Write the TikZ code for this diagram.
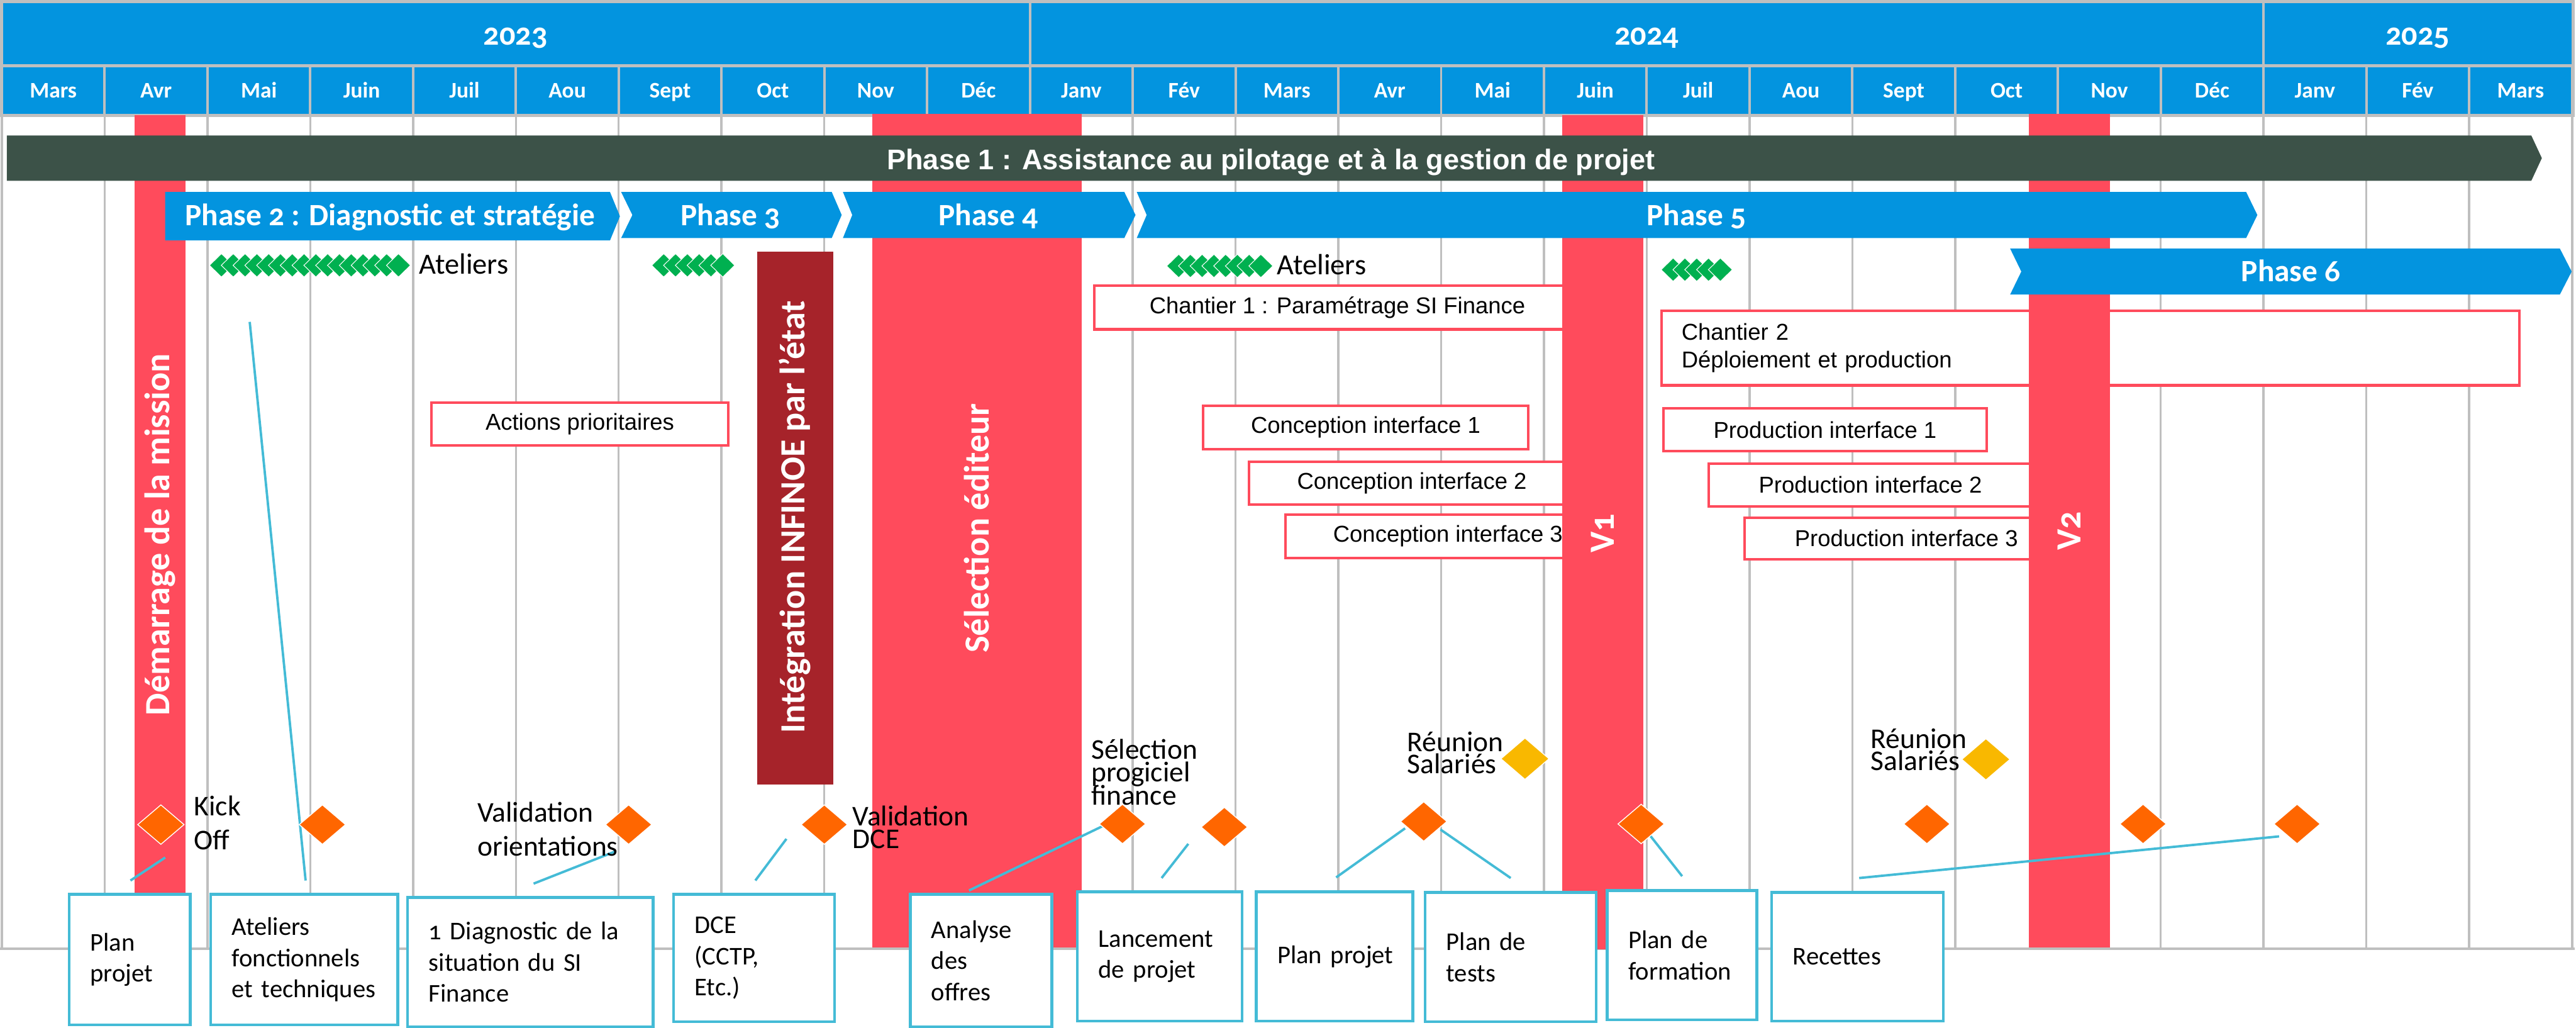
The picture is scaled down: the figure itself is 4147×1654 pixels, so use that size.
\documentclass[tikz,border=0pt]{standalone}
\usepackage{fontspec}
\setmainfont{Carlito}[Numbers=OldStyle]
\newfontfamily\arialf{Liberation Sans}
\usetikzlibrary{shapes.geometric}
\definecolor{bleuh}{HTML}{0394DF}
\definecolor{grisl}{HTML}{BFBFBF}
\definecolor{vertf}{HTML}{3C5248}
\definecolor{rouge}{HTML}{FF4B5C}
\definecolor{bordeaux}{HTML}{A6232A}
\definecolor{jalon}{HTML}{FF6600}
\definecolor{jaune}{HTML}{F9B800}
\definecolor{vertat}{HTML}{00B050}
\definecolor{cyanl}{HTML}{44BBD6}
\lineskiplimit=-100pt
\hyphenpenalty=10000
\exhyphenpenalty=10000

\begin{document}
\begin{tikzpicture}[x=0.01cm, y=-0.01cm,
  annee/.style={font=\bfseries\fontsize{14.5}{17}\selectfont, text=white, anchor=base},
  mois/.style={font=\bfseries\fontsize{10.2}{12}\selectfont, text=white, anchor=base},
  grille/.style={draw=grisl, line width=1pt},
  phtxt/.style={font=\bfseries\fontsize{14.2}{17}\selectfont, text=white, anchor=base},
  barre/.style={font=\bfseries\fontsize{16.2}{19}\selectfont, text=white, rotate=90},
  tache/.style={draw=rouge, line width=1.2pt, fill=white, inner sep=0pt, font=\arialf\fontsize{10.5}{12.8}\selectfont},
  livrable/.style={draw=cyanl, line width=1.3pt, fill=white, anchor=north west, inner xsep=0.34cm, inner ysep=0pt, align=left, font=\fontsize{11.7}{14.2}\selectfont},
  jal/.style={diamond, fill=jalon, draw=white, line width=0.4pt, inner sep=0pt, minimum width=0.75cm, minimum height=0.64cm},
  reu/.style={jal, fill=jaune, minimum width=0.78cm, minimum height=0.67cm},
  atelier/.style={diamond, fill=vertat, draw=white, line width=0.3pt, inner sep=0pt, minimum width=0.39cm, minimum height=0.38cm},
  etiq/.style={font=\fontsize{13.1}{15.4}\selectfont, align=left, anchor=base west, inner sep=0pt},
  etiqs/.style={etiq, font=\fontsize{13.1}{10.2}\selectfont},
  lien/.style={draw=cyanl, line width=1.1pt}
]
\useasboundingbox (0,0) rectangle (4147,1654);

% en-tete : annees et mois
\fill[grisl] (0,0) rectangle (4145,188);
\fill[bleuh] (5,5) rectangle (1656,103);
\fill[bleuh] (1660,5) rectangle (3642,103);
\fill[bleuh] (3646,5) rectangle (4140,103);
\node[annee] (a23) at (830,72) {2023};
\node[annee] (a24) at (2651,72) {2024};
\node[annee] (a25) at (3892,72) {2025};
\foreach \m [count=\i from 0] in {Mars,Avr,Mai,Juin,Juil,Aou,Sept,Oct,Nov,Déc,Janv,Fév,Mars,Avr,Mai,Juin,Juil,Aou,Sept,Oct,Nov,Déc,Janv,Fév,Mars}{
  \fill[bleuh] ({5+165.5*\i},108) rectangle ({166.5+165.5*\i},183);
  \node[mois] (m\i) at ({85.75+165.5*\i},157) {\m};
}

% grille
\foreach \i in {1,...,24}
  \draw[grille] ({3+165.5*\i},188) -- ({3+165.5*\i},1527);
\draw[grille] (3,188) -- (3,1527);
\draw[grille] (4141,188) -- (4141,1527);
\draw[grille, line width=1.2pt] (0,1527) -- (4145,1527);

% barres
\fill[rouge] (217,185) rectangle (299,1437);
\fill[rouge] (1404,183) rectangle (1741,1525);
\fill[bordeaux] (1219,405) rectangle (1341,1263);

% taches
\node[tache, minimum width=4.77cm, minimum height=0.69cm] (act) at (933.5,682.5) {Actions prioritaires};
\node[tache, minimum width=7.82cm, minimum height=0.70cm] (ch1) at (2153,495) {Chantier 1 : Paramétrage SI Finance};
\node[tache, minimum width=5.23cm, minimum height=0.70cm] (ci1) at (2198.5,688) {Conception interface 1};
\node[tache, minimum width=5.24cm, minimum height=0.69cm] (ci2) at (2273,777.5) {Conception interface 2};
\node[tache, minimum width=5.22cm, minimum height=0.70cm] (ci3) at (2331,863) {Conception interface 3};
\node[tache, anchor=north west, minimum width=13.8cm, minimum height=1.2cm, inner xsep=0.32cm, text width=13.16cm, align=left] (ch2) at (2673,498) {Chantier 2\\Déploiement et production};
\node[tache, minimum width=5.2cm, minimum height=0.69cm] (pi1) at (2938,691.5) {Production interface 1};
\node[tache, minimum width=5.2cm, minimum height=0.69cm] (pi2) at (3011,780.5) {Production interface 2};
\node[tache, minimum width=5.2cm, minimum height=0.67cm] (pi3) at (3069,866.5) {Production interface 3};

% versions
\fill[rouge] (2515,185) rectangle (2646,1528);
\fill[rouge] (3266,183) rectangle (3397,1525);

% phases
\fill[vertf] (11,218) -- (4075,218) -- (4092,254.5) -- (4075,291) -- (11,291) -- cycle;
\node[phtxt, font=\arialf\bfseries\fontsize{13}{15}\selectfont] (ph1) at (2046,273) {Phase 1 : Assistance au pilotage et à la gestion de projet};
\fill[bleuh] (266,309) -- (982,309) -- (998,348) -- (982,387) -- (266,387) -- cycle;
\fill[bleuh] (1000,309) -- (1339,309) -- (1355,346) -- (1339,383) -- (1000,383) -- (1018,346) -- cycle;
\fill[bleuh] (1357,309) -- (1810,309) -- (1828,346) -- (1810,383) -- (1357,383) -- (1372,346) -- cycle;
\fill[bleuh] (1830,309) -- (3616,309) -- (3634,346) -- (3616,383) -- (1830,383) -- (1846,346) -- cycle;
\fill[bleuh] (3236,400) -- (4121,400) -- (4140,437) -- (4121,474) -- (3236,474) -- (3254,437) -- cycle;
\node[phtxt] (ph2) at (628,363) {Phase 2 : Diagnostic et stratégie};
\node[phtxt] (ph3) at (1176,363) {Phase 3};
\node[phtxt] (ph4) at (1591,363) {Phase 4};
\node[phtxt] (ph5) at (2731,363) {Phase 5};
\node[phtxt] (ph6) at (3688,453) {Phase 6};

% textes verticaux
\node[barre] (dem) at (258,860) {Démarrage de la mission};
\node[barre] (inf) at (1280,832) {Intégration INFINOE par l’état};
\node[barre] (sel) at (1572,850) {Sélection éditeur};
\node[barre] (v1) at (2580,858) {V1};
\node[barre] (v2) at (3331,854) {V2};

% ateliers
\foreach \k in {0,...,15} \node[atelier] (ga\k) at ({356.5+19*\k},427) {};
\foreach \k in {0,...,5} \node[atelier] (gb\k) at ({1068.5+19*\k},427) {};
\foreach \k in {0,...,7} \node[atelier] (gc\k) at ({1897.5+18.9*\k},428) {};
\foreach \k in {0,...,4} \node[atelier] (gd\k) at ({2693.5+19*\k},434) {};
\node[font=\fontsize{13.4}{16}\selectfont, anchor=base west, inner sep=0pt] (at1) at (674,441) {Ateliers};
\node[font=\fontsize{13.4}{16}\selectfont, anchor=base west, inner sep=0pt] (at2) at (2055,442) {Ateliers};

% livrables
\node[livrable, minimum width=1.95cm, minimum height=2.1cm, text width=1.27cm] (b1) at (109,1437) {Plan\\projet};
\node[livrable, minimum width=3.01cm, minimum height=2.1cm, text width=2.33cm] (b2) at (337,1437) {Ateliers\\fonctionnels\\et~techniques};
\node[livrable, minimum width=3.95cm, minimum height=2.08cm, text width=3.27cm] (b3) at (654,1442) {1~Diagnostic~de~la\\situation~du~SI\\Finance};
\node[livrable, minimum width=2.59cm, minimum height=2.05cm, text width=1.91cm] (b4) at (1082,1437) {DCE\\(CCTP,\\Etc.)};
\node[livrable, minimum width=2.28cm, minimum height=2.13cm, text width=1.6cm] (b5) at (1463,1437) {Analyse\\des\\offres};
\node[livrable, minimum width=2.65cm, minimum height=2.08cm, text width=1.97cm] (b6) at (1732,1433) {Lancement\\de~projet};
\node[livrable, minimum width=2.52cm, minimum height=2.08cm, text width=1.84cm] (b7) at (2020,1433) {Plan~projet};
\node[livrable, minimum width=2.75cm, minimum height=2.08cm, text width=2.07cm] (b8) at (2292,1434) {Plan~de\\tests};
\node[livrable, minimum width=2.41cm, minimum height=2.08cm, text width=1.73cm] (b9) at (2585,1431) {Plan~de\\formation};
\node[livrable, minimum width=2.76cm, minimum height=2.07cm, text width=2.08cm] (b10) at (2850,1434) {Recettes};

% liens jalon -> livrable
\coordinate (l1a) at (266,1380);  \coordinate (l1b) at (210,1417);
\coordinate (l2a) at (402,518);   \coordinate (l2b) at (492,1417);
\coordinate (l3a) at (991,1370);  \coordinate (l3b) at (859,1422);
\coordinate (l4a) at (1266,1350); \coordinate (l4b) at (1216,1417);
\coordinate (l5a) at (1774,1330); \coordinate (l5b) at (1560,1433);
\coordinate (l6a) at (1913,1358); \coordinate (l6b) at (1870,1413);
\coordinate (l7a) at (2262,1333); \coordinate (l7b) at (2151,1412);
\coordinate (l8a) at (2319,1335); \coordinate (l8b) at (2432,1413);
\coordinate (l9a) at (2652,1339); \coordinate (l9b) at (2708,1410);
\coordinate (l10a) at (3669,1346); \coordinate (l10b) at (2993,1413);
\foreach \n in {1,...,10} \draw[lien] (l\n a) -- (l\n b);

% jalons
\node[jal] (j1) at (259,1327) {};
\node[jal] (j2) at (519,1327) {};
\node[jal] (j3) at (1012,1327) {};
\node[jal] (j4) at (1327,1327) {};
\node[jal] (j5) at (1807,1326) {};
\node[jal] (j6) at (1971,1331) {};
\node[jal] (j7) at (2292,1322) {};
\node[jal] (j8) at (2642,1326) {};
\node[jal] (j9) at (3102,1326) {};
\node[jal] (j10) at (3450,1326) {};
\node[jal] (j11) at (3698,1326) {};
\node[reu] (r1) at (2455,1221) {};
\node[reu] (r2) at (3197,1222) {};

% etiquettes (base = derniere ligne)
\node[etiq] (t1) at (312,1367) {Kick\\Off};
\node[etiq] (t3) at (768,1377) {Validation\\orientations};
\node[etiqs] (t4) at (1372,1365) {Validation\\DCE};
\node[etiqs, font=\fontsize{13.1}{10.4}\selectfont] (t5) at (1756,1295) {Sélection\\progiciel\\finance};
\node[etiqs] (tr1) at (2265,1245) {Réunion\\Salariés};
\node[etiqs] (tr2) at (3011,1240) {Réunion\\Salariés};

\end{tikzpicture}
\end{document}
